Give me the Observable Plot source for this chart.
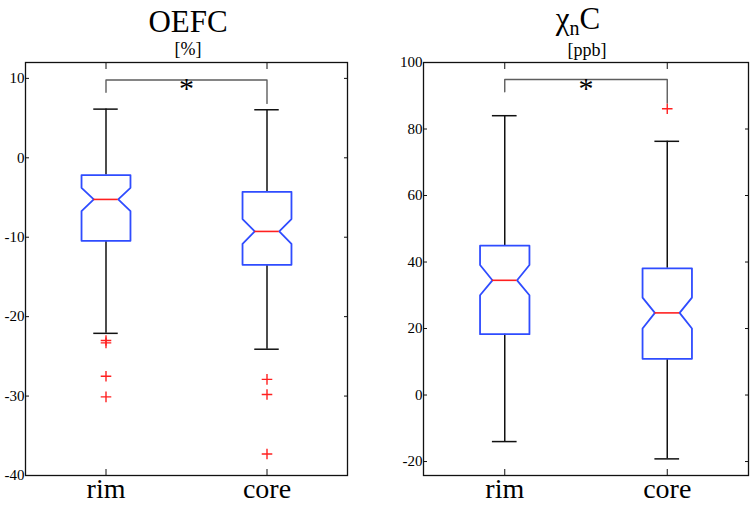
<!DOCTYPE html>
<html>
<head>
<meta charset="utf-8">
<script src="https://cdn.jsdelivr.net/npm/d3@7"></script>
<script src="https://cdn.jsdelivr.net/npm/@observablehq/plot@0.6"></script>
<style>
  html, body { margin: 0; padding: 0; background: #fff; }
  #wrap { position: relative; width: 750px; height: 508px; overflow: hidden; font-family: "Liberation Serif", "Times New Roman", serif; }
  .panel { position: absolute; top: 0; }
  .ttl { position: absolute; text-align: center; line-height: 1; color: #000; white-space: nowrap; }
</style>
</head>
<body>
<div id="wrap">
  <div class="ttl" style="left:88px; top:6px; width:200px; font-size:31px;">OEFC</div>
  <div class="ttl" style="left:88px; top:40px; width:200px; font-size:18px;">[%]</div>
  <div class="ttl" style="left:478px; top:3px; width:200px; font-size:31px;">χ<span style="font-size:20px; position:relative; top:6px;">n</span>C</div>
  <div class="ttl" style="left:487px; top:41px; width:200px; font-size:18px;">[ppb]</div>
</div>
<script>
// ---- data ----
const categories = ["rim", "core"];

const oefcTicks = [-40, -30, -20, -10, 0, 10];
const oefcWhiskerLow  = [-22.1, -24.1];
const oefcQ1          = [-10.45, -13.48];
const oefcNotchLow    = [-6.71, -10.83];
const oefcMedian      = [-5.24, -9.27];
const oefcNotchHigh   = [-3.78, -7.72];
const oefcQ3          = [-2.18, -4.28];
const oefcWhiskerHigh = [6.13, 6.05];
const oefcOutliers    = [[-23.0, -23.3, -27.5, -30.1], [-27.9, -29.8, -37.3]];
const oefcBracket     = [8.24, 9.79, 6.85]; // left leg end, top, right leg end

const chiTicks = [-20, 0, 20, 40, 60, 80, 100];
const chiWhiskerLow  = [-14.0, -19.2];
const chiQ1          = [18.3, 10.9];
const chiNotchLow    = [30.0, 20.0];
const chiMedian      = [34.5, 24.7];
const chiNotchHigh   = [39.1, 29.3];
const chiQ3          = [44.9, 38.1];
const chiWhiskerHigh = [84.0, 76.3];
const chiOutliers    = [[], [86.1]];
const chiBracket     = [91.2, 94.9, 87.8];

// ---- drawing ----
const BLUE = "#2f4cff", RED = "#ff2020";
const FONT = "Liberation Serif";
const W = 0.152; // half box width in x units

function panel(o) {
  const idx = categories.map((c, i) => i);
  const poly = [];
  idx.forEach(i => {
    const c = i + 1;
    const pts = [
      [c - W, o.q3[i]], [c + W, o.q3[i]], [c + W, o.nhi[i]], [c + W / 2, o.med[i]],
      [c + W, o.nlo[i]], [c + W, o.q1[i]], [c - W, o.q1[i]], [c - W, o.nlo[i]],
      [c - W / 2, o.med[i]], [c - W, o.nhi[i]], [c - W, o.q3[i]]
    ];
    pts.forEach(([x, y]) => poly.push({cat: categories[i], x, y}));
  });
  const outl = [];
  o.out.forEach((arr, i) => arr.forEach(v => outl.push({x: i + 1, y: v})));
  const br = [
    {x: 1, y: o.bracket[0]}, {x: 1, y: o.bracket[1]},
    {x: 2, y: o.bracket[1]}, {x: 2, y: o.bracket[2]}
  ];
  const fmt = d => String(d);
  return Plot.plot({
    width: 375, height: 508,
    marginLeft: o.ml, marginRight: o.mr, marginTop: 62, marginBottom: 33,
    style: {background: "transparent", color: "#000"},
    x: {domain: [0.5, 2.5], label: null},
    y: {domain: o.domain, label: null},
    marks: [
      Plot.frame({stroke: "#111", strokeWidth: 1.3}),
      Plot.axisY(o.ticks, {anchor: "left", label: null, tickSize: -4, tickPadding: 5, tickFormat: fmt, fontSize: 15, fontFamily: FONT, stroke: "#111"}),
      Plot.axisY(o.ticks, {anchor: "right", label: null, tickSize: -4, tickFormat: () => "", stroke: "#111"}),
      Plot.axisX([1, 2], {anchor: "bottom", label: null, tickSize: -6, tickPadding: 9, tickFormat: d => categories[d - 1], fontSize: 28, fontFamily: FONT, stroke: "#111"}),
      Plot.axisX([1, 2], {anchor: "top", label: null, tickSize: -6, tickFormat: () => "", stroke: "#111"}),
      // whiskers
      Plot.ruleX(idx, {x: i => i + 1, y1: i => o.q3[i], y2: i => o.wh[i], stroke: "#111", strokeWidth: 1.5}),
      Plot.ruleX(idx, {x: i => i + 1, y1: i => o.q1[i], y2: i => o.wl[i], stroke: "#111", strokeWidth: 1.5}),
      Plot.ruleY(idx, {y: i => o.wh[i], x1: i => i + 1 - W / 2, x2: i => i + 1 + W / 2, stroke: "#111", strokeWidth: 1.5}),
      Plot.ruleY(idx, {y: i => o.wl[i], x1: i => i + 1 - W / 2, x2: i => i + 1 + W / 2, stroke: "#111", strokeWidth: 1.5}),
      // boxes
      Plot.line(poly, {x: "x", y: "y", z: "cat", stroke: BLUE, strokeWidth: 1.8, curve: "linear"}),
      Plot.ruleY(idx, {y: i => o.med[i], x1: i => i + 1 - W / 2, x2: i => i + 1 + W / 2, stroke: RED, strokeWidth: 1.6}),
      // outliers
      Plot.dot(outl, {x: "x", y: "y", symbol: "plus", r: 3.5, stroke: RED, strokeWidth: 1.4}),
      // significance bracket
      Plot.line(br, {x: "x", y: "y", stroke: "#5e5e5e", strokeWidth: 1.4}),
      Plot.text([1.5], {x: d => d, y: () => o.bracket[1], text: () => "*", fontSize: 30, fontFamily: FONT, lineAnchor: "top", dy: -3, fill: "#000"})
    ]
  });
}

const left = panel({
  domain: [-40, 12], ticks: oefcTicks, ml: 25, mr: 28,
  q1: oefcQ1, q3: oefcQ3, med: oefcMedian, nlo: oefcNotchLow, nhi: oefcNotchHigh,
  wl: oefcWhiskerLow, wh: oefcWhiskerHigh, out: oefcOutliers, bracket: oefcBracket
});
const right = panel({
  domain: [-24.2, 100], ticks: chiTicks, ml: 48, mr: 2,
  q1: chiQ1, q3: chiQ3, med: chiMedian, nlo: chiNotchLow, nhi: chiNotchHigh,
  wl: chiWhiskerLow, wh: chiWhiskerHigh, out: chiOutliers, bracket: chiBracket
});
left.classList.add("panel"); left.style.left = "0px";
right.classList.add("panel"); right.style.left = "375px";
const wrap = document.getElementById("wrap");
wrap.insertBefore(left, wrap.firstChild);
wrap.insertBefore(right, wrap.firstChild);
</script>
</body>
</html>
